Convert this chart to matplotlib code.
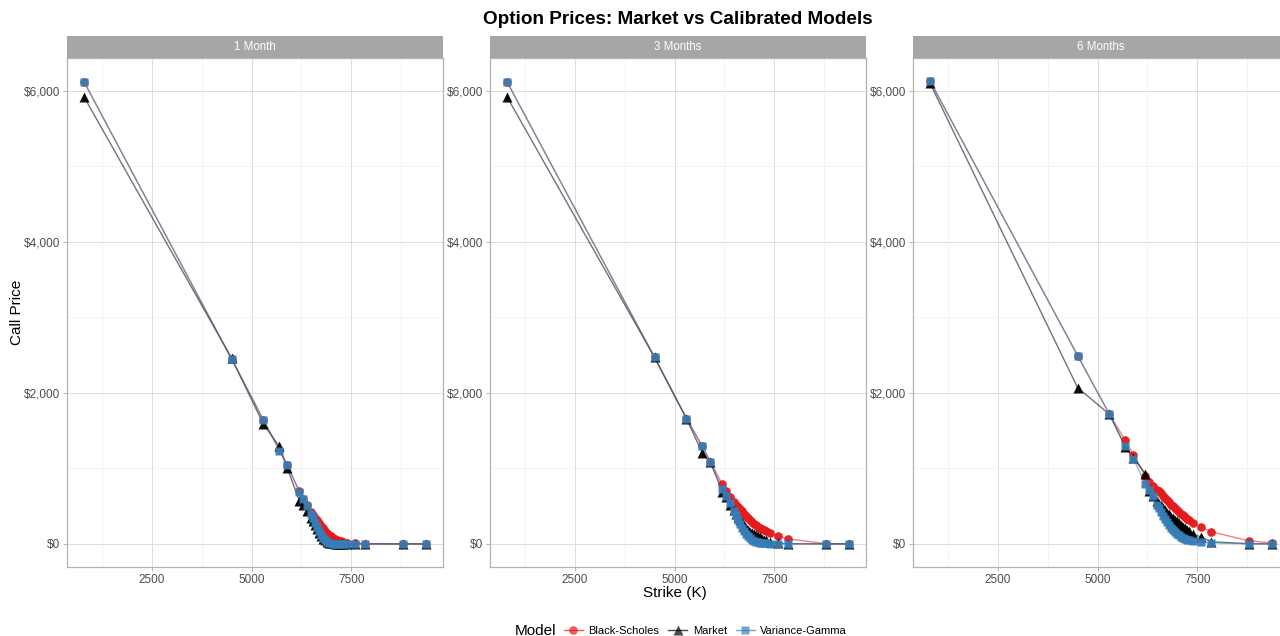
import matplotlib
matplotlib.use("Agg")
import matplotlib.pyplot as plt
from matplotlib.lines import Line2D
from matplotlib.ticker import FuncFormatter, MultipleLocator

plt.rcParams['font.family'] = ['Liberation Sans', 'DejaVu Sans']

# strikes (same grid for every maturity)
strikes = [800, 4500, 5300, 5700, 5900, 6200, 6300, 6400, 6500, 6550,
           6600, 6650, 6700, 6750, 6800, 6850, 6900, 6950, 7000, 7050,
           7100, 7150, 7200, 7250, 7300, 7400, 7600, 7850, 8800, 9375]

maturities = ["1 Month", "3 Months", "6 Months"]

# 1 month
bs_1m = [6120, 2450, 1640, 1240, 1040, 695, 600, 510, 420, 380,
         345, 310, 275, 240, 205, 175, 148, 124, 102, 84,
         68, 55, 44, 35, 28, 17, 5, 1, 0, 0]
market_1m = [5920, 2460, 1585, 1290, 1000, 570, 510, 430, 345, 300,
             250, 200, 150, 105, 70, 45, 28, 16, 9, 5,
             3, 2, 1, 1, 0, 0, 0, 0, 0, 0]
vg_1m = [6120, 2450, 1640, 1235, 1040, 690, 590, 500, 400, 340,
         280, 220, 165, 115, 75, 45, 25, 12, 6, 3,
         1, 1, 0, 0, 0, 0, 0, 0, 0, 0]

# 3 months
bs_3m = [6120, 2470, 1660, 1290, 1090, 790, 700, 620, 555, 520,
         490, 460, 430, 400, 370, 340, 315, 290, 268, 247,
         228, 210, 193, 178, 164, 140, 102, 66, 2, 0]
market_3m = [5920, 2470, 1660, 1200, 1080, 690, 620, 520, 450, 400,
             360, 320, 285, 250, 210, 185, 160, 145, 130, 115,
             100, 85, 70, 57, 45, 28, 8, 2, 0, 0]
vg_3m = [6120, 2470, 1660, 1290, 1080, 730, 640, 540, 440, 380,
         320, 265, 215, 170, 132, 100, 75, 55, 40, 29,
         21, 15, 10, 7, 5, 2, 1, 0, 0, 0]

# 6 months
bs_6m = [6130, 2495, 1716, 1370, 1180, 900, 820, 770, 720, 700,
         670, 640, 605, 580, 550, 520, 495, 470, 445, 420,
         398, 376, 356, 336, 318, 275, 225, 160, 40, 13]
market_6m = [6100, 2070, 1715, 1280, 1140, 930, 700, 640, 570, 530,
             510, 470, 455, 415, 400, 360, 345, 310, 300, 270,
             255, 225, 210, 185, 172, 130, 90, 28, 2, 0]
vg_6m = [6130, 2495, 1716, 1300, 1130, 790, 720, 630, 520, 470,
         420, 375, 330, 290, 250, 215, 185, 158, 135, 112,
         95, 80, 66, 55, 45, 33, 20, 12, 1, 0]

prices = {
    "1 Month": (bs_1m, market_1m, vg_1m),
    "3 Months": (bs_3m, market_3m, vg_3m),
    "6 Months": (bs_6m, market_6m, vg_6m),
}

models = ["Black-Scholes", "Market", "Variance-Gamma"]
colors = {"Black-Scholes": "#E41A1C", "Market": "#000000", "Variance-Gamma": "#377EB8"}
markers = {"Black-Scholes": "o", "Market": "^", "Variance-Gamma": "s"}
msizes = {"Black-Scholes": 6.2, "Market": 7, "Variance-Gamma": 5.8}

W, H = 1280, 636
panel_left = [67, 490, 913]
panel_w = 376


def fx(px):
    return px / W


def fy(py):
    return 1 - py / H


def dollars(v, pos):
    return "${:,.0f}".format(v)


def main():
    fig = plt.figure(figsize=(W / 100, H / 100), dpi=100)

    # shared scales with ggplot-like 5% expansion
    all_vals = bs_1m + market_1m + vg_1m + bs_3m + market_3m + vg_3m + bs_6m + market_6m + vg_6m
    xr = max(strikes) - min(strikes)
    yr = max(all_vals) - min(all_vals)
    xlim = (min(strikes) - 0.05 * xr, max(strikes) + 0.05 * xr)
    ylim = (min(all_vals) - 0.05 * yr, max(all_vals) + 0.05 * yr)

    for i, mat in enumerate(maturities):
        left = panel_left[i]
        ax = fig.add_axes([fx(left), fy(567), fx(panel_w), 509 / H])
        series = dict(zip(models, prices[mat]))

        # lines first, then points (ggplot layer order)
        for m in models:
            ax.plot(strikes, series[m], color=colors[m], lw=1.0, alpha=0.55, zorder=2)
        for m in models:
            ax.plot(strikes, series[m], ls="none", marker=markers[m], ms=msizes[m],
                    color=colors[m], mec="none", alpha=0.95, zorder=3)

        ax.set_xlim(xlim)
        ax.set_ylim(ylim)
        ax.xaxis.set_major_locator(MultipleLocator(2500))
        ax.xaxis.set_minor_locator(MultipleLocator(1250))
        ax.yaxis.set_major_locator(MultipleLocator(2000))
        ax.yaxis.set_minor_locator(MultipleLocator(1000))
        ax.yaxis.set_major_formatter(FuncFormatter(dollars))

        ax.grid(which="major", color="#DEDEDE", lw=0.75, zorder=0)
        ax.grid(which="minor", color="#EDEDED", lw=0.45, zorder=0)
        ax.set_axisbelow(True)
        for s in ax.spines.values():
            s.set_color("#B3B3B3")
            s.set_linewidth(0.9)
        ax.tick_params(which="major", length=3, color="#B3B3B3", width=0.7,
                       labelsize=8.5, labelcolor="#4D4D4D", pad=2)
        ax.tick_params(which="minor", length=0)

        # facet strip
        sax = fig.add_axes([fx(left), fy(58), fx(panel_w), 22 / H])
        sax.set_facecolor("#A6A6A6")
        sax.set_xticks([])
        sax.set_yticks([])
        for s in sax.spines.values():
            s.set_visible(False)
        sax.text(0.5, 0.5, mat, color="white", fontsize=8.3, ha="center", va="center",
                 transform=sax.transAxes)

    # titles
    fig.text(fx(678), fy(20), "Option Prices: Market vs Calibrated Models",
             ha="center", va="center", fontsize=13.6, fontweight="bold")
    fig.text(fx(17), fy(312), "Call Price", rotation=90, ha="center", va="center", fontsize=11)
    fig.text(fx(675), fy(593), "Strike (K)", ha="center", va="center", fontsize=11)

    # legend at the bottom
    fig.text(fx(515), fy(631), "Model", ha="left", va="center", fontsize=11)
    handles = [Line2D([], [], color=colors[m], marker=markers[m], ms=msizes[m],
                      mec="none", lw=1.0, alpha=0.7) for m in models]
    fig.legend(handles, models, loc="center left", bbox_to_anchor=(fx(564), fy(631)),
               ncol=3, frameon=False, fontsize=8, handlelength=1.7,
               handletextpad=0.5, columnspacing=0.8, borderpad=0, borderaxespad=0)

    fig.savefig("out.png", dpi=100)


if __name__ == "__main__":
    main()
